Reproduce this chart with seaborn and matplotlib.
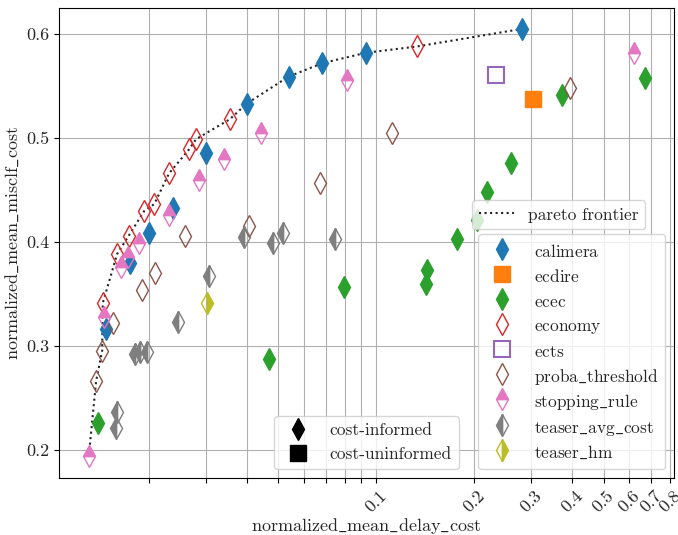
import numpy as np
import pandas as pd
import matplotlib
matplotlib.use("Agg")
import matplotlib.pyplot as plt
from matplotlib.lines import Line2D
import seaborn as sns

sns.set_style("ticks")
plt.rcParams["font.family"] = ["cmr10", "DejaVu Serif"]
plt.rcParams["mathtext.fontset"] = "cm"
plt.rcParams["axes.unicode_minus"] = False
plt.rcParams["axes.formatter.use_mathtext"] = True

methods = ["calimera", "ecdire", "ecec", "economy", "ects",
           "proba_threshold", "stopping_rule", "teaser_avg_cost", "teaser_hm"]

calimera_x = [0.0148, 0.01748, 0.01998, 0.0238, 0.0300, 0.0400, 0.0538, 0.0684, 0.0932, 0.2816]
calimera_y = [0.3163, 0.380, 0.4083, 0.433, 0.486, 0.533, 0.559, 0.572, 0.582, 0.605]

ecdire_x = [0.304]
ecdire_y = [0.5375]

ecec_x = [0.01395, 0.0468, 0.0798, 0.1422, 0.1432, 0.177, 0.2037, 0.2186, 0.2607, 0.373, 0.670]
ecec_y = [0.2263, 0.2875, 0.357, 0.3596, 0.373, 0.403, 0.421, 0.448, 0.476, 0.541, 0.558]

economy_x = [0.01445, 0.0160, 0.01736, 0.0194, 0.0208, 0.0231, 0.0266, 0.0280, 0.0355, 0.1335]
economy_y = [0.3413, 0.3885, 0.406, 0.430, 0.4365, 0.466, 0.489, 0.499, 0.518, 0.588]

ects_x = [0.2328]
ects_y = [0.5606]

proba_threshold_x = [0.01379, 0.01439, 0.01558, 0.01907, 0.0209, 0.0259, 0.0406, 0.0674, 0.112, 0.394]
proba_threshold_y = [0.2666, 0.2955, 0.3221, 0.3538, 0.370, 0.406, 0.415, 0.457, 0.505, 0.548]

stopping_rule_x = [0.01309, 0.01453, 0.01648, 0.0173, 0.01866, 0.0231, 0.0286, 0.0340, 0.0442, 0.0815, 0.6197]
stopping_rule_y = [0.1945, 0.3282, 0.3763, 0.386, 0.3988, 0.426, 0.4596, 0.480, 0.505, 0.556, 0.582]

teaser_avg_cost_x = [0.0159, 0.0160, 0.0181, 0.0188, 0.0198, 0.0246, 0.0306, 0.0392, 0.0481, 0.0516, 0.075]
teaser_avg_cost_y = [0.221, 0.2365, 0.292, 0.294, 0.294, 0.323, 0.367, 0.405, 0.399, 0.409, 0.403]

teaser_hm_x = [0.0302]
teaser_hm_y = [0.341]

xtick_vals = [0.1, 0.2, 0.3, 0.4, 0.5, 0.6, 0.7, 0.8]
xtick_labels = ["0.1", "0.2", "0.3", "0.4", "0.5", "0.6", "0.7", "0.8"]
xminor_vals = [0.02, 0.03, 0.04, 0.05, 0.06, 0.07, 0.08, 0.09]
ytick_vals = [0.2, 0.3, 0.4, 0.5, 0.6]
ytick_labels = ["0.2", "0.3", "0.4", "0.5", "0.6"]

xs = {"calimera": calimera_x, "ecdire": ecdire_x, "ecec": ecec_x, "economy": economy_x,
      "ects": ects_x, "proba_threshold": proba_threshold_x, "stopping_rule": stopping_rule_x,
      "teaser_avg_cost": teaser_avg_cost_x, "teaser_hm": teaser_hm_x}
ys = {"calimera": calimera_y, "ecdire": ecdire_y, "ecec": ecec_y, "economy": economy_y,
      "ects": ects_y, "proba_threshold": proba_threshold_y, "stopping_rule": stopping_rule_y,
      "teaser_avg_cost": teaser_avg_cost_y, "teaser_hm": teaser_hm_y}


def tex(s):
    """Render a label with mathtext (CM roman) so underscores show as underscores."""
    return r"$\mathrm{" + s.replace("_", r"\_") + "}$"


rows = []
for m in methods:
    for x, y in zip(xs[m], ys[m]):
        rows.append({"method": m, "delay": x, "misclf": y})
df = pd.DataFrame(rows)

palette = dict(zip(methods, sns.color_palette("tab10", len(methods))))
style = {
    "calimera": ("d", "full"),
    "ecdire": ("s", "full"),
    "ecec": ("d", "full"),
    "economy": ("d", "none"),
    "ects": ("s", "none"),
    "proba_threshold": ("d", "none"),
    "stopping_rule": ("d", "top"),
    "teaser_avg_cost": ("d", "left"),
    "teaser_hm": ("d", "right"),
}

# pareto frontier: points not dominated (smaller delay, larger value)
srt = df.sort_values("delay")
fx, fy, best = [], [], -np.inf
for x, y in zip(srt["delay"], srt["misclf"]):
    if y > best:
        fx.append(x); fy.append(y); best = y
front = pd.DataFrame({"delay": fx, "misclf": fy})

fig = plt.figure(figsize=(6.78, 5.35), dpi=100)
ax = fig.add_axes([0.087, 0.1065, 0.907, 0.8785])
ax.set_xscale("log")

sns.lineplot(data=front, x="delay", y="misclf", estimator=None, sort=False,
             color="#222222", linestyle=":", linewidth=1.5, ax=ax, zorder=2)

MS = 11
for m in methods:
    mk, fs = style[m]
    sub = df[df["method"] == m]
    c = palette[m]
    sns.lineplot(data=sub, x="delay", y="misclf", estimator=None, sort=False,
                 marker=mk, fillstyle=fs, linestyle="", markersize=MS,
                 color=c, markerfacecolor=c, markeredgecolor=c,
                 markeredgewidth=1.5 if m == "ects" else 1.0,
                 ax=ax, zorder=3, legend=False)

ax.set_xlim(0.0106, 0.823)
ax.set_ylim(0.173, 0.625)
ax.set_xticks(xtick_vals)
ax.set_xticklabels(xtick_labels, rotation=45, fontsize=13)
ax.set_xticks(xminor_vals, minor=True)
ax.set_xticklabels([], minor=True)
ax.set_yticks(ytick_vals)
ax.set_yticklabels(ytick_labels, fontsize=13)
ax.tick_params(which="both", length=3.5, width=0.8, color="black")
ax.grid(True, which="both", axis="x", color="#b0b0b0", linewidth=0.8)
ax.grid(True, which="major", axis="y", color="#b0b0b0", linewidth=0.8)
ax.set_axisbelow(True)
for s in ax.spines.values():
    s.set_visible(True)
    s.set_linewidth(0.8)
    s.set_color("black")

ax.set_xlabel(tex("normalized_mean_delay_cost"), fontsize=13, va="top")
ax.xaxis.set_label_coords(0.5, -0.081)
ax.set_ylabel(tex("normalized_mean_misclf_cost"), fontsize=13)

fs_leg = 12.5
h1 = [Line2D([], [], color="#222222", linestyle=":", linewidth=1.5)]
leg1 = ax.legend(h1, ["pareto frontier"], loc="upper left",
                 bbox_to_anchor=(0.672, 0.591), borderaxespad=0,
                 fontsize=fs_leg, frameon=True)
ax.add_artist(leg1)

h2 = []
for m in methods:
    mk, fs = style[m]
    c = palette[m]
    h2.append(Line2D([], [], linestyle="", marker=mk, fillstyle=fs, markersize=MS,
                     color=c, markerfacecolor=c, markeredgecolor=c,
                     markeredgewidth=1.5 if m == "ects" else 1.0))
leg2 = ax.legend(h2, [tex(m) for m in methods], loc="lower right",
                 fontsize=fs_leg, handleheight=1.4, labelspacing=0.27, frameon=True)
ax.add_artist(leg2)

h3 = [Line2D([], [], linestyle="", marker="d", markersize=MS, color="black"),
      Line2D([], [], linestyle="", marker="s", markersize=MS, color="black")]
ax.legend(h3, ["cost-informed", "cost-uninformed"], loc="lower center",
          fontsize=fs_leg, frameon=True)

fig.savefig("out.png", dpi=100)
